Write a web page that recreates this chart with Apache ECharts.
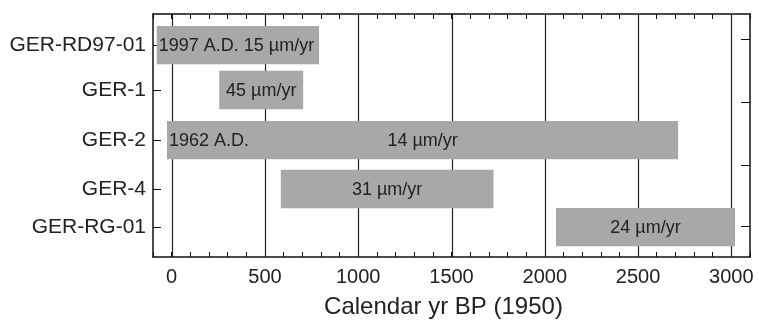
<!DOCTYPE html>
<html>
<head>
<meta charset="utf-8">
<script src="https://cdn.jsdelivr.net/npm/echarts@6/dist/echarts.min.js"></script>
<style>html,body{margin:0;padding:0;background:#fff}#c{width:759px;height:320px}</style>
</head>
<body>
<div id="c"></div>
<script>
// ---- data ----
const categories = ['GER-RD97-01', 'GER-1', 'GER-2', 'GER-4', 'GER-RG-01'];
const rowPos = [12.8, 31.3, 51.9, 72.0, 87.7];          // vertical position of each core (y value units)
const startYr = [-80, 255, -25, 585, 2060];
const endYr = [790, 705, 2715, 1725, 3020];
const leftLabels = ['1997 A.D. 15 \u00b5m/yr', '', '1962 A.D.', '', ''];
const rateLabels = ['', '45 \u00b5m/yr', '14 \u00b5m/yr', '31 \u00b5m/yr', '24 \u00b5m/yr'];
const xTicks = [0, 500, 1000, 1500, 2000, 2500, 3000];
const rightTicks = [10.4, 36.5, 62.1, 87.5];
const xTitle = 'Calendar yr BP (1950)';

const FONT = "'Liberation Sans', Arial, Helvetica, sans-serif";
const barData = categories.map((c, i) => [startYr[i], endYr[i], rowPos[i], i]);
const BAR_H = 15.8;

const chart = echarts.init(document.getElementById('c'), null, {renderer: 'canvas'});
chart.setOption({
  animation: false,
  backgroundColor: '#fff',
  grid: {left: 153, right: 9, top: 14, bottom: 63, containLabel: false, outerBoundsMode: 'none'},
  xAxis: [{
    type: 'value', position: 'bottom', min: -100, max: 3100, interval: 100,
    axisLine: {show: true, onZero: false, lineStyle: {color: '#111', width: 1.5}},
    axisTick: {show: true, inside: true, length: 5, lineStyle: {color: '#111', width: 1}},
    axisLabel: {customValues: xTicks, color: '#222', fontSize: 20, fontFamily: FONT, margin: 10,
      formatter: v => String(v)},
    splitLine: {show: false},
    name: xTitle, nameLocation: 'middle', nameGap: 38,
    nameTextStyle: {color: '#222', fontSize: 24, fontFamily: FONT, padding: [0, 16, 0, 0]}
  }, {
    type: 'value', position: 'top', min: -100, max: 3100, interval: 100,
    axisLine: {show: true, onZero: false, lineStyle: {color: '#111', width: 1.5}},
    axisTick: {show: true, inside: true, length: 5, lineStyle: {color: '#111', width: 1}},
    axisLabel: {show: false},
    splitLine: {show: false}
  }],
  yAxis: [{
    type: 'value', position: 'left', min: 0, max: 100, inverse: true,
    axisLine: {show: true, onZero: false, lineStyle: {color: '#111', width: 1.5}},
    axisTick: {show: true, inside: true, length: 8, customValues: rowPos, lineStyle: {color: '#111', width: 1}},
    axisLabel: {
      customValues: rowPos, color: '#222', fontSize: 21, fontFamily: FONT, margin: 7,
      formatter: v => categories[rowPos.indexOf(v)] || ''
    },
    splitLine: {show: false}
  }, {
    type: 'value', position: 'right', min: 0, max: 100, inverse: true,
    axisLine: {show: true, onZero: false, lineStyle: {color: '#111', width: 1.5}},
    axisTick: {show: true, inside: true, length: 9, customValues: rightTicks, lineStyle: {color: '#111', width: 1}},
    axisLabel: {show: false},
    splitLine: {show: false}
  }],
  series: [{
    type: 'custom', z: 1, silent: true,
    xAxisIndex: 0, yAxisIndex: 0,
    data: xTicks.map(v => [v]),
    renderItem(params, api) {
      const cs = params.coordSys;
      const x = Math.round(api.coord([api.value(0), 0])[0]) + 0.5;
      return {type: 'line', shape: {x1: x, y1: cs.y, x2: x, y2: cs.y + cs.height},
        style: {stroke: '#222', lineWidth: 1.2}};
    }
  }, {
    type: 'custom', z: 2, silent: true,
    xAxisIndex: 0, yAxisIndex: 0,
    data: barData,
    renderItem(params, api) {
      const i = api.value(3);
      const s = api.coord([api.value(0), api.value(2)]);
      const e = api.coord([api.value(1), api.value(2)]);
      const h = api.size([0, BAR_H])[1];
      return {type: 'group', children: [
        {type: 'rect', shape: {x: s[0], y: s[1] - h / 2, width: e[0] - s[0], height: h},
          style: {fill: '#a7a8aa'}},
        {type: 'text', style: {text: leftLabels[i], x: s[0] + 2, y: s[1] + 1, align: 'left',
          verticalAlign: 'middle', fill: '#222', fontSize: 18, fontFamily: FONT}},
        {type: 'text', style: {text: rateLabels[i], x: (s[0] + e[0]) / 2, y: s[1] + 1, align: 'center',
          verticalAlign: 'middle', fill: '#222', fontSize: 18, fontFamily: FONT}}
      ]};
    }
  }]
});
</script>
</body>
</html>
